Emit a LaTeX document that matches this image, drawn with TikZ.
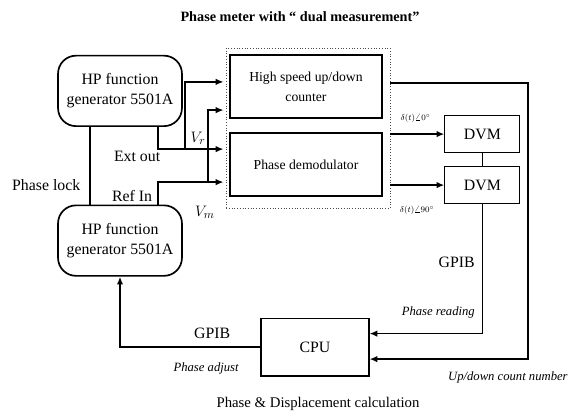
\documentclass[tikz,border=0pt]{standalone}
\usepackage{fontspec}
\setmainfont{Liberation Serif}
\usetikzlibrary{arrows.meta,positioning}

\begin{document}
\begin{tikzpicture}[>={Latex[length=2.6mm,width=2.2mm]},
 every node/.style={font=\fontsize{15}{19}\selectfont},
 gen/.style={draw,line width=1.6pt,rounded corners=0.6cm,align=center,minimum width=4.13cm,minimum height=2.35cm,inner sep=0pt},
 blk/.style={draw,line width=1.9pt,align=center,minimum width=5.07cm,minimum height=2.1cm,font=\fontsize{13}{19}\selectfont},
 meas/.style={draw,line width=1.1pt,minimum width=2.5cm,minimum height=1.25cm},
 wire/.style={line width=1.5pt},
 note/.style={font=\itshape\fontsize{12}{15}\selectfont},
 angl/.style={font=\fontsize{8.5}{9}\selectfont}]
\useasboundingbox (0,0) rectangle (19.1,-13.97);
\node[font=\bfseries\fontsize{13.5}{16}\selectfont] (title) at (10.0,-0.57) {Phase meter with “ dual measurement”};
% dual measurement unit
\node[draw=black!70,dotted,line width=0.6pt,minimum width=5.47cm,minimum height=5.33cm,inner sep=0pt] (meter) at (10.27,-4.27) {};
\node[blk] (counter) at (10.2,-2.88) {High speed up/down\\counter};
\node[blk] (demod) at (10.2,-5.48) {Phase demodulator};
% generators
\node[gen] (gen1) at (4.0,-3.03) {HP function\\generator 5501A};
\node[gen] (gen2) at (4.0,-8.02) {HP function\\generator 5501A};
% meters and computer
\node[meas] (dvm1) at (16.08,-4.47) {DVM};
\node[meas] (dvm2) at (16.08,-6.17) {DVM};
\node[meas,minimum width=3.6cm,minimum height=1.93cm] (cpu) at (10.5,-11.57) {CPU};
% inputs of the phase meter
\coordinate (c1) at (7.45,-2.73);
\coordinate (c2) at (7.45,-3.67);
\coordinate (d1) at (7.45,-4.97);
\coordinate (d2) at (7.45,-6.07);
\coordinate (vr) at (6.17,-4.97);
\coordinate (vm) at (6.93,-6.07);
\coordinate (bus) at (17.6,-2.77);
\draw[wire] ([xshift=-1cm]gen1.south) -- ([xshift=-1cm]gen2.north);
\draw[wire,->] ([xshift=1.27cm]gen1.south) |- (d1);
\draw[wire,->] (vr) |- (c1);
\draw[wire,->] ([xshift=1.27cm]gen2.north) |- (d2);
\draw[wire,->] (vm) |- (c2);
% outputs
\draw[wire,->] (meter.east |- dvm1.west) -- (dvm1.west);
\draw[wire,->] (meter.east |- dvm2.west) -- (dvm2.west);
\draw[wire] (dvm1) -- (dvm2);
\draw[wire,->] (dvm2) |- ([yshift=0.45cm]cpu.east);
\draw[wire,->] (meter.east |- bus) -- (bus) |- ([yshift=-0.4cm]cpu.east);
\draw[wire,->] (cpu) -| (gen2);
% labels
\node[anchor=east] (lock) at (2.8,-6.17) {Phase lock};
\node (extlbl) at (4.57,-5.2) {Ext out};
\node (reflbl) at (4.4,-6.53) {Ref In};
\node (vrlbl) at (6.6,-4.6) {$V_r$};
\node (vmlbl) at (6.83,-7.07) {$V_m$};
\node[angl] (ph0) at (13.85,-3.93) {$\delta(t)\angle 0^\circ$};
\node[angl] (ph90) at (13.9,-7.0) {$\delta(t)\angle 90^\circ$};
\node[anchor=east] (gpib1) at (15.95,-8.73) {GPIB};
\node[note,anchor=east] (rd) at (15.95,-10.43) {Phase reading};
\node (gpib2) at (7.07,-11.1) {GPIB};
\node[note] (adj) at (6.87,-12.27) {Phase adjust};
\node[note] (cnt) at (16.93,-12.57) {Up/down count number};
\node[font=\fontsize{14}{16}\selectfont] (calc) at (10.6,-13.47) {Phase \& Displacement calculation};
\end{tikzpicture}
\end{document}
